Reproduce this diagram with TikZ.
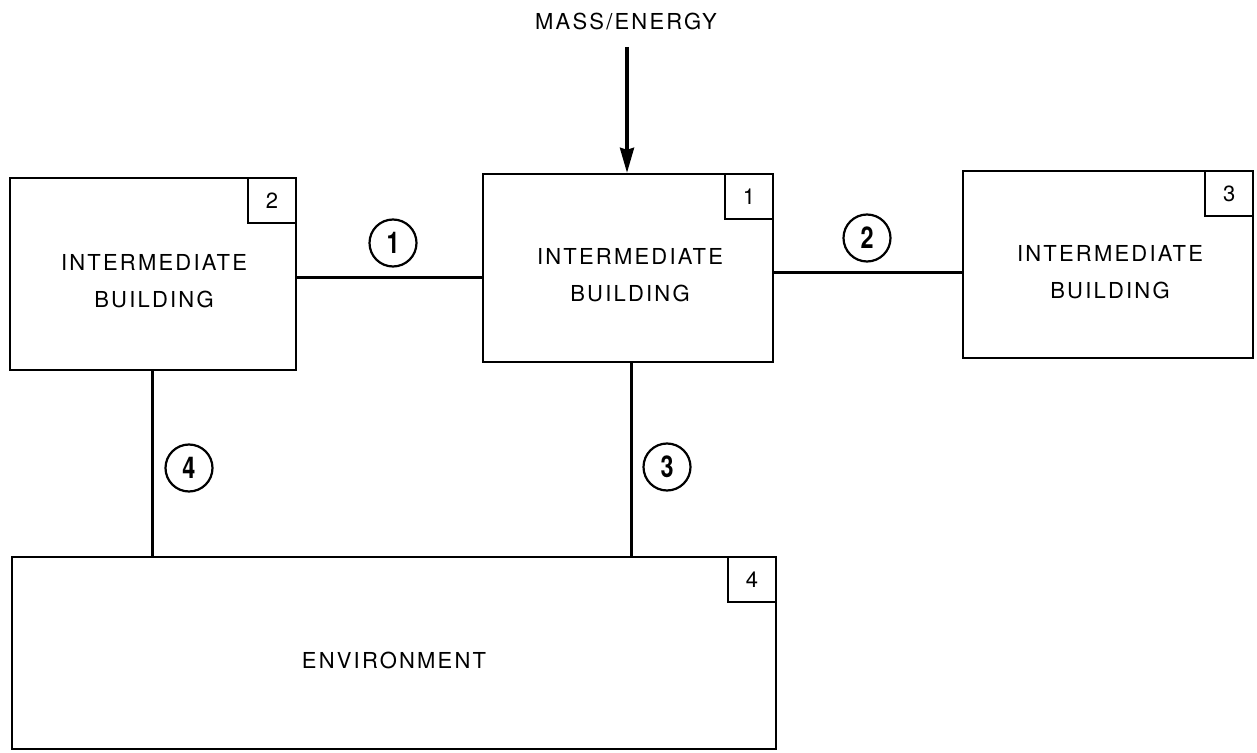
\documentclass[tikz,border=0pt]{standalone}
\usepackage{fontspec}
\usepackage{graphicx}
\setmainfont{TeX Gyre Heros}
\newfontfamily\spacedfont[LetterSpace=10]{TeX Gyre Heros}
\usetikzlibrary{arrows.meta}
\newcommand{\flownum}[1]{\scalebox{0.78}[1]{\bfseries\fontsize{15}{15}\selectfont #1}}
\begin{document}
\begin{tikzpicture}[x=0.5pt,y=-0.5pt,
  boxnode/.style={draw, line width=1.2pt, rectangle, inner sep=0pt},
  tagbox/.style={draw, line width=1.1pt, rectangle, inner sep=0pt, minimum width=24pt, minimum height=22.5pt, anchor=north east, font=\fontsize{11}{11}\selectfont},
  boxtext/.style={align=center, font=\spacedfont\fontsize{11}{18.5}\selectfont, inner sep=0pt},
  flowcircle/.style={draw, circle, line width=1.1pt, minimum size=23.5pt, inner sep=0pt},
  link/.style={line width=1.5pt}]
\useasboundingbox (0,0) rectangle (1257,753);

% boxes
\node[boxnode, minimum width=145pt, minimum height=94pt] (b1) at (628,268) {};
\node[boxnode, minimum width=143pt, minimum height=96pt] (b2) at (153,274) {};
\node[boxnode, minimum width=145pt, minimum height=93.5pt] (b3) at (1108,264.5) {};
\node[boxnode, minimum width=382pt, minimum height=96pt] (env) at (394,653) {};

% corner tags
\node[tagbox] (t1) at (b1.north east) {1};
\node[tagbox] (t2) at (b2.north east) {2};
\node[tagbox] (t3) at (b3.north east) {3};
\node[tagbox] (t4) at (env.north east) {4};

% box texts
\node[boxtext] (b1t) at (630,275) {INTERMEDIATE\\BUILDING};
\node[boxtext] (b2t) at (154,281) {INTERMEDIATE\\BUILDING};
\node[boxtext] (b3t) at (1110,272) {INTERMEDIATE\\BUILDING};
\node[boxtext] (envt) at (394,660) {ENVIRONMENT};

% input
\node[font=\spacedfont\fontsize{11}{12}\selectfont, inner sep=0pt] (mass) at (626,22) {MASS/ENERGY};
\coordinate (src) at (627,47);
\draw[line width=1.6pt, -{Stealth[length=12.5pt, width=7pt, inset=1pt]}] (src) -- (src |- b1.north);

% connectors
\coordinate (l1) at (0,278);
\coordinate (l2) at (0,273);
\coordinate (l3) at (631,0);
\coordinate (l4) at (152,0);
\draw[link] (b2.east |- l1) -- (b1.west |- l1);
\draw[link] (b1.east |- l2) -- (b3.west |- l2);
\draw[link] (b1.south -| l3) -- (env.north -| l3);
\draw[link] (b2.south -| l4) -- (env.north -| l4);

% flow numbers
\node[flowcircle] (f1) at (393,243) {\flownum{1}};
\node[flowcircle] (f2) at (867,238) {\flownum{2}};
\node[flowcircle] (f3) at (667,467) {\flownum{3}};
\node[flowcircle] (f4) at (189,468) {\flownum{4}};
\end{tikzpicture}
\end{document}
